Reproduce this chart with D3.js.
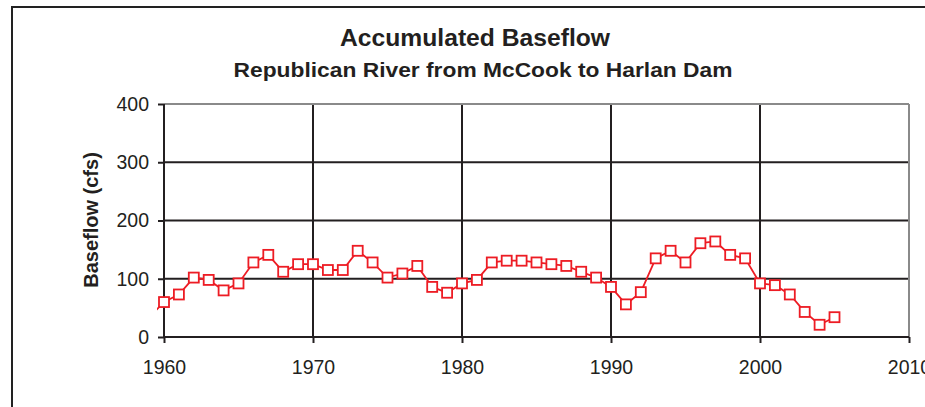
<!DOCTYPE html>
<html><head><meta charset="utf-8">
<script src="https://cdn.jsdelivr.net/npm/d3@7"></script>
<style>
body{margin:0;background:#fff;}
svg{display:block;font-family:"Liberation Sans",Arial,sans-serif;}
</style></head>
<body><svg id="c" width="925" height="407"></svg>
<script>
const years = [1959,1960,1961,1962,1963,1964,1965,1966,1967,1968,1969,1970,1971,1972,1973,1974,1975,1976,1977,1978,1979,1980,1981,1982,1983,1984,1985,1986,1987,1988,1989,1990,1991,1992,1993,1994,1995,1996,1997,1998,1999,2000,2001,2002,2003,2004,2005];
const baseflow = [34,60,73,102,98,80,92,128,141,112,125,125,115,115,148,128,102,109,122,86,76,92,98,128,131,131,128,125,122,112,102,86,56,77,135,148,128,161,164,141,135,92,89,73,43,21,34];
const xTicks = [1960,1970,1980,1990,2000,2010];
const yTicks = [0,100,200,300,400];
const title = "Accumulated Baseflow";
const subtitle = "Republican River from McCook to Harlan Dam";
const yTitle = "Baseflow (cfs)";

const svg = d3.select("#c");
const L=164, R=909, T=104, B=337;
const x = d3.scaleLinear().domain([1960,2010]).range([L,R]);
const y = d3.scaleLinear().domain([0,400]).range([B,T]);
const ink = "#231f20";

// frame
svg.append("path").attr("d",`M12,407 V7 H925`).attr("fill","none").attr("stroke","#222").attr("stroke-width",2);

svg.append("text").attr("x",475).attr("y",46).attr("text-anchor","middle")
  .attr("font-weight","bold").attr("font-size",24).attr("fill",ink)
  .attr("textLength",270).attr("lengthAdjust","spacingAndGlyphs").text(title);
svg.append("text").attr("x",483).attr("y",77).attr("text-anchor","middle")
  .attr("font-weight","bold").attr("font-size",21).attr("fill",ink)
  .attr("textLength",499).attr("lengthAdjust","spacingAndGlyphs").text(subtitle);

// gridlines
const g = svg.append("g");
yTicks.filter(d=>d>0 && d<400).forEach(d=>{
  g.append("line").attr("x1",L).attr("x2",R).attr("y1",y(d)).attr("y2",y(d)).attr("stroke",ink).attr("stroke-width",2);
});
xTicks.filter(d=>d>1960 && d<2010).forEach(d=>{
  g.append("line").attr("y1",T).attr("y2",B).attr("x1",x(d)).attr("x2",x(d)).attr("stroke",ink).attr("stroke-width",2);
});
// plot border top/right gray
g.append("line").attr("x1",L).attr("x2",R).attr("y1",T).attr("y2",T).attr("stroke","#8a8a8a").attr("stroke-width",2);
g.append("line").attr("x1",R).attr("x2",R).attr("y1",T).attr("y2",B).attr("stroke","#8a8a8a").attr("stroke-width",2);

// axes
const ya = svg.append("g").attr("transform",`translate(${L},0)`)
  .call(d3.axisLeft(y).tickValues(yTicks).tickSize(6).tickPadding(9));
const xa = svg.append("g").attr("transform",`translate(0,${B})`)
  .call(d3.axisBottom(x).tickValues(xTicks).tickFormat(d3.format("d")).tickSize(6).tickPadding(17));
[ya,xa].forEach(a=>{
  a.select(".domain").attr("stroke",ink).attr("stroke-width",2);
  a.selectAll(".tick line").attr("stroke",ink).attr("stroke-width",2);
  a.selectAll("text").attr("font-size",19.5).attr("fill",ink).attr("font-family","Liberation Sans, Arial, sans-serif");
});
ya.select(".domain").attr("d",`M0,${T}V${B}`);
xa.select(".domain").attr("d",`M${L},0H${R}`);

svg.append("text").attr("transform",`translate(98,${220}) rotate(-90)`).attr("text-anchor","middle")
  .attr("font-weight","bold").attr("font-size",20).attr("fill",ink).text(yTitle);

// clip
svg.append("clipPath").attr("id","cp").append("rect").attr("x",157).attr("y",T-10).attr("width",R-157+10).attr("height",B-T+20);

const pts = years.map((yr,i)=>({yr,v:baseflow[i]}));
const red = "#ed1c24";
svg.append("path").datum(pts).attr("clip-path","url(#cp)")
  .attr("d",d3.line().x(d=>x(d.yr)).y(d=>y(d.v)))
  .attr("fill","none").attr("stroke",red).attr("stroke-width",1.8);
svg.append("g").selectAll("rect").data(pts.filter(d=>d.yr>=1960)).join("rect")
  .attr("x",d=>x(d.yr)-5).attr("y",d=>y(d.v)-5).attr("width",10).attr("height",10)
  .attr("fill","#fff").attr("stroke",red).attr("stroke-width",1.8);
</script></body></html>
